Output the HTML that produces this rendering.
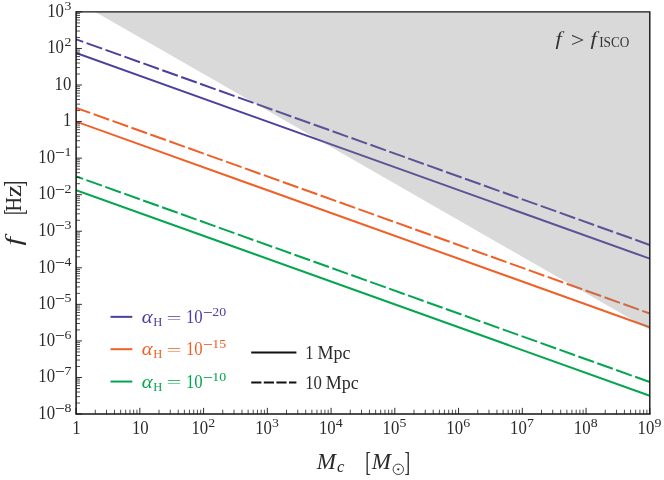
<!DOCTYPE html>
<html><head><meta charset="utf-8"><title>plot</title>
<style>html,body{margin:0;padding:0;background:#fff;}body{width:664px;height:480px;overflow:hidden;}svg{display:block;will-change:transform;}text{font-family:"Liberation Serif",serif;}</style>
</head><body>
<svg width="664" height="480" viewBox="0 0 664 480">
<rect x="0" y="0" width="664" height="480" fill="#ffffff"/>
<defs><clipPath id="cp"><rect x="76.10" y="11.90" width="573.70" height="402.15"/></clipPath></defs>
<g clip-path="url(#cp)" fill="none" stroke-width="2">
<line x1="76.10" y1="53.03" x2="649.80" y2="258.67" stroke="#4a409e"/>
<line x1="76.10" y1="39.32" x2="649.80" y2="244.96" stroke="#4a409e" stroke-dasharray="16.5 3.6" stroke-dashoffset="8.95"/>
<line x1="76.10" y1="121.58" x2="649.80" y2="327.22" stroke="#f06026"/>
<line x1="76.10" y1="107.87" x2="649.80" y2="313.51" stroke="#f06026" stroke-dasharray="16.5 3.6" stroke-dashoffset="1.52"/>
<line x1="76.10" y1="190.13" x2="649.80" y2="395.77" stroke="#03a54f"/>
<line x1="76.10" y1="176.42" x2="649.80" y2="382.06" stroke="#03a54f" stroke-dasharray="16.5 3.6" stroke-dashoffset="9.16"/>
</g>
<polygon points="95.40,11.90 649.80,11.90 649.80,329.86" fill="#808080" fill-opacity="0.3"/>
<g stroke="#141414" fill="none">
<path d="M95.29 414.05V409.70M106.51 414.05V409.70M114.48 414.05V409.70M120.66 414.05V409.70M125.70 414.05V409.70M129.97 414.05V409.70M133.67 414.05V409.70M136.93 414.05V409.70M159.03 414.05V409.70M170.26 414.05V409.70M178.22 414.05V409.70M184.40 414.05V409.70M189.45 414.05V409.70M193.71 414.05V409.70M197.41 414.05V409.70M200.67 414.05V409.70M222.78 414.05V409.70M234.00 414.05V409.70M241.97 414.05V409.70M248.14 414.05V409.70M253.19 414.05V409.70M257.46 414.05V409.70M261.16 414.05V409.70M264.42 414.05V409.70M286.52 414.05V409.70M297.75 414.05V409.70M305.71 414.05V409.70M311.89 414.05V409.70M316.94 414.05V409.70M321.20 414.05V409.70M324.90 414.05V409.70M328.16 414.05V409.70M350.27 414.05V409.70M361.49 414.05V409.70M369.46 414.05V409.70M375.63 414.05V409.70M380.68 414.05V409.70M384.95 414.05V409.70M388.64 414.05V409.70M391.91 414.05V409.70M414.01 414.05V409.70M425.24 414.05V409.70M433.20 414.05V409.70M439.38 414.05V409.70M444.43 414.05V409.70M448.69 414.05V409.70M452.39 414.05V409.70M455.65 414.05V409.70M477.76 414.05V409.70M488.98 414.05V409.70M496.94 414.05V409.70M503.12 414.05V409.70M508.17 414.05V409.70M512.44 414.05V409.70M516.13 414.05V409.70M519.39 414.05V409.70M541.50 414.05V409.70M552.72 414.05V409.70M560.69 414.05V409.70M566.87 414.05V409.70M571.91 414.05V409.70M576.18 414.05V409.70M579.88 414.05V409.70M583.14 414.05V409.70M605.24 414.05V409.70M616.47 414.05V409.70M624.43 414.05V409.70M630.61 414.05V409.70M635.66 414.05V409.70M639.93 414.05V409.70M643.62 414.05V409.70M646.88 414.05V409.70M76.10 403.04H80.00M76.10 396.61H80.00M76.10 392.04H80.00M76.10 388.50H80.00M76.10 385.60H80.00M76.10 383.15H80.00M76.10 381.03H80.00M76.10 379.16H80.00M76.10 366.49H80.00M76.10 360.05H80.00M76.10 355.48H80.00M76.10 351.94H80.00M76.10 349.04H80.00M76.10 346.59H80.00M76.10 344.47H80.00M76.10 342.60H80.00M76.10 329.93H80.00M76.10 323.49H80.00M76.10 318.92H80.00M76.10 315.38H80.00M76.10 312.48H80.00M76.10 310.04H80.00M76.10 307.92H80.00M76.10 306.05H80.00M76.10 293.37H80.00M76.10 286.93H80.00M76.10 282.36H80.00M76.10 278.82H80.00M76.10 275.92H80.00M76.10 273.48H80.00M76.10 271.36H80.00M76.10 269.49H80.00M76.10 256.81H80.00M76.10 250.37H80.00M76.10 245.80H80.00M76.10 242.26H80.00M76.10 239.37H80.00M76.10 236.92H80.00M76.10 234.80H80.00M76.10 232.93H80.00M76.10 220.25H80.00M76.10 213.81H80.00M76.10 209.24H80.00M76.10 205.70H80.00M76.10 202.81H80.00M76.10 200.36H80.00M76.10 198.24H80.00M76.10 196.37H80.00M76.10 183.69H80.00M76.10 177.25H80.00M76.10 172.68H80.00M76.10 169.14H80.00M76.10 166.25H80.00M76.10 163.80H80.00M76.10 161.68H80.00M76.10 159.81H80.00M76.10 147.13H80.00M76.10 140.69H80.00M76.10 136.13H80.00M76.10 132.58H80.00M76.10 129.69H80.00M76.10 127.24H80.00M76.10 125.12H80.00M76.10 123.25H80.00M76.10 110.57H80.00M76.10 104.13H80.00M76.10 99.57H80.00M76.10 96.02H80.00M76.10 93.13H80.00M76.10 90.68H80.00M76.10 88.56H80.00M76.10 86.69H80.00M76.10 74.01H80.00M76.10 67.58H80.00M76.10 63.01H80.00M76.10 59.46H80.00M76.10 56.57H80.00M76.10 54.12H80.00M76.10 52.00H80.00M76.10 50.13H80.00M76.10 37.45H80.00M76.10 31.02H80.00M76.10 26.45H80.00M76.10 22.91H80.00M76.10 20.01H80.00M76.10 17.56H80.00M76.10 15.44H80.00M76.10 13.57H80.00" stroke-width="0.75"/>
<path d="M76.10 414.05V407.85M139.84 414.05V407.85M203.59 414.05V407.85M267.33 414.05V407.85M331.08 414.05V407.85M394.82 414.05V407.85M458.57 414.05V407.85M522.31 414.05V407.85M586.06 414.05V407.85M649.80 414.05V407.85M76.10 414.05H81.90M76.10 377.49H81.90M76.10 340.93H81.90M76.10 304.37H81.90M76.10 267.81H81.90M76.10 231.25H81.90M76.10 194.70H81.90M76.10 158.14H81.90M76.10 121.58H81.90M76.10 85.02H81.90M76.10 48.46H81.90M76.10 11.90H81.90" stroke-width="0.9"/>
<path d="M76.10 11.90H649.80V414.05" stroke-width="1.4"/>
<path d="M76.10 11.90V414.05H649.80" stroke-width="1.5" stroke-linecap="square"/>
</g>
<g fill="#2a2a2a">
<text transform="translate(76.50,434.00) scale(0.930,1.000)" font-size="18.00" text-anchor="middle">1</text>
<text transform="translate(140.34,434.00) scale(0.930,1.000)" font-size="18.00" text-anchor="middle">10</text>
<text transform="translate(191.39,434.00) scale(0.930,1.000)" font-size="18.00">10</text>
<text transform="translate(208.29,427.15) scale(1.060,1.000)" font-size="13.10">2</text>
<text transform="translate(255.13,434.00) scale(0.930,1.000)" font-size="18.00">10</text>
<text transform="translate(272.03,427.15) scale(1.060,1.000)" font-size="13.10">3</text>
<text transform="translate(318.88,434.00) scale(0.930,1.000)" font-size="18.00">10</text>
<text transform="translate(335.78,427.15) scale(1.060,1.000)" font-size="13.10">4</text>
<text transform="translate(382.62,434.00) scale(0.930,1.000)" font-size="18.00">10</text>
<text transform="translate(399.52,427.15) scale(1.060,1.000)" font-size="13.10">5</text>
<text transform="translate(446.37,434.00) scale(0.930,1.000)" font-size="18.00">10</text>
<text transform="translate(463.27,427.15) scale(1.060,1.000)" font-size="13.10">6</text>
<text transform="translate(510.11,434.00) scale(0.930,1.000)" font-size="18.00">10</text>
<text transform="translate(527.01,427.15) scale(1.060,1.000)" font-size="13.10">7</text>
<text transform="translate(573.86,434.00) scale(0.930,1.000)" font-size="18.00">10</text>
<text transform="translate(590.76,427.15) scale(1.060,1.000)" font-size="13.10">8</text>
<text transform="translate(637.60,434.00) scale(0.930,1.000)" font-size="18.00">10</text>
<text transform="translate(654.50,427.15) scale(1.060,1.000)" font-size="13.10">9</text>
<text transform="translate(71.34,411.90) scale(1.060,1.000)" font-size="13.10" text-anchor="end">8</text>
<text transform="translate(55.03,414.00)" font-size="17.40">−</text>
<text transform="translate(55.00,418.75) scale(0.930,1.000)" font-size="18.00" text-anchor="end">10</text>
<text transform="translate(71.34,375.34) scale(1.060,1.000)" font-size="13.10" text-anchor="end">7</text>
<text transform="translate(55.03,377.44)" font-size="17.40">−</text>
<text transform="translate(55.00,382.19) scale(0.930,1.000)" font-size="18.00" text-anchor="end">10</text>
<text transform="translate(71.34,338.78) scale(1.060,1.000)" font-size="13.10" text-anchor="end">6</text>
<text transform="translate(55.03,340.88)" font-size="17.40">−</text>
<text transform="translate(55.00,345.63) scale(0.930,1.000)" font-size="18.00" text-anchor="end">10</text>
<text transform="translate(71.34,302.22) scale(1.060,1.000)" font-size="13.10" text-anchor="end">5</text>
<text transform="translate(55.03,304.32)" font-size="17.40">−</text>
<text transform="translate(55.00,309.07) scale(0.930,1.000)" font-size="18.00" text-anchor="end">10</text>
<text transform="translate(71.34,265.66) scale(1.060,1.000)" font-size="13.10" text-anchor="end">4</text>
<text transform="translate(55.03,267.76)" font-size="17.40">−</text>
<text transform="translate(55.00,272.51) scale(0.930,1.000)" font-size="18.00" text-anchor="end">10</text>
<text transform="translate(71.34,229.10) scale(1.060,1.000)" font-size="13.10" text-anchor="end">3</text>
<text transform="translate(55.03,231.20)" font-size="17.40">−</text>
<text transform="translate(55.00,235.95) scale(0.930,1.000)" font-size="18.00" text-anchor="end">10</text>
<text transform="translate(71.34,192.55) scale(1.060,1.000)" font-size="13.10" text-anchor="end">2</text>
<text transform="translate(55.03,194.65)" font-size="17.40">−</text>
<text transform="translate(55.00,199.40) scale(0.930,1.000)" font-size="18.00" text-anchor="end">10</text>
<text transform="translate(71.34,155.99) scale(1.060,1.000)" font-size="13.10" text-anchor="end">1</text>
<text transform="translate(55.03,158.09)" font-size="17.40">−</text>
<text transform="translate(55.00,162.84) scale(0.930,1.000)" font-size="18.00" text-anchor="end">10</text>
<text transform="translate(71.30,126.28) scale(0.930,1.000)" font-size="18.00" text-anchor="end">1</text>
<text transform="translate(71.30,89.72) scale(0.930,1.000)" font-size="18.00" text-anchor="end">10</text>
<text transform="translate(71.34,46.31) scale(1.060,1.000)" font-size="13.10" text-anchor="end">2</text>
<text transform="translate(63.90,53.16) scale(0.930,1.000)" font-size="18.00" text-anchor="end">10</text>
<text transform="translate(71.34,9.75) scale(1.060,1.000)" font-size="13.10" text-anchor="end">3</text>
<text transform="translate(63.90,16.60) scale(0.930,1.000)" font-size="18.00" text-anchor="end">10</text>
<text transform="translate(316.80,469.20) scale(0.980,1.000)" font-size="23.50" font-style="italic">M</text>
<text transform="translate(337.00,472.30) scale(0.950,1.000)" font-size="17.50" font-style="italic">c</text>
<text transform="translate(365.30,470.90) scale(0.720,1.190)" font-size="23.50">[</text>
<text transform="translate(371.80,469.20) scale(0.980,1.000)" font-size="23.50" font-style="italic">M</text>
<circle cx="398.3" cy="469.3" r="5.2" fill="none" stroke="#2a2a2a" stroke-width="0.9"/><circle cx="398.3" cy="469.3" r="1.15" fill="#2a2a2a"/>
<text transform="translate(404.50,470.90) scale(0.720,1.190)" font-size="23.50">]</text>
<text transform="translate(21.10,245.60) rotate(-90) scale(1.300,1.000)" font-size="23.50" font-style="italic">f</text>
<text transform="translate(22.80,215.10) rotate(-90) scale(0.720,1.190)" font-size="23.50">[</text>
<text transform="translate(21.10,211.40) rotate(-90) scale(0.880,1.000)" font-size="22.75">H</text>
<text transform="translate(21.10,197.30) rotate(-90) scale(1.220,1.000)" font-size="22.75">z</text>
<text transform="translate(22.80,186.60) rotate(-90) scale(0.720,1.190)" font-size="23.50">]</text>
</g>
<text transform="translate(555.60,45.00) scale(1.200,1.000)" font-size="18.80" font-style="italic" fill="#333333">f</text>
<text transform="translate(570.80,46.90) scale(1.180,1.000)" font-size="20.50" fill="#333333">&gt;</text>
<text transform="translate(590.40,45.00) scale(1.200,1.000)" font-size="18.80" font-style="italic" fill="#333333">f</text>
<text transform="translate(599.20,47.30) scale(0.935,1.000)" font-size="14.20" fill="#333333">ISCO</text>
<line x1="110.5" y1="316.85" x2="132.3" y2="316.85" stroke="#4a409e" stroke-width="2"/>
<text transform="translate(141.80,322.80) scale(1.060,1.000)" font-size="19.50" font-style="italic" fill="#4a409e">α</text>
<text transform="translate(153.30,326.00) scale(0.980,1.000)" font-size="12.80" fill="#4a409e">H</text>
<text transform="translate(166.50,322.70) scale(1.850,1.000)" font-size="14.40" fill="#4a409e">=</text>
<text transform="translate(185.90,322.80) scale(0.930,1.000)" font-size="18.00" fill="#4a409e">10</text>
<text transform="translate(203.00,318.05)" font-size="17.40" fill="#4a409e">−</text>
<text transform="translate(212.20,315.95) scale(1.060,1.000)" font-size="13.10" fill="#4a409e">20</text>
<line x1="110.5" y1="349.20" x2="132.3" y2="349.20" stroke="#f06026" stroke-width="2"/>
<text transform="translate(141.80,355.15) scale(1.060,1.000)" font-size="19.50" font-style="italic" fill="#f06026">α</text>
<text transform="translate(153.30,358.35) scale(0.980,1.000)" font-size="12.80" fill="#f06026">H</text>
<text transform="translate(166.50,355.05) scale(1.850,1.000)" font-size="14.40" fill="#f06026">=</text>
<text transform="translate(185.90,355.15) scale(0.930,1.000)" font-size="18.00" fill="#f06026">10</text>
<text transform="translate(203.00,350.40)" font-size="17.40" fill="#f06026">−</text>
<text transform="translate(212.20,348.30) scale(1.060,1.000)" font-size="13.10" fill="#f06026">15</text>
<line x1="110.5" y1="381.55" x2="132.3" y2="381.55" stroke="#03a54f" stroke-width="2"/>
<text transform="translate(141.80,387.50) scale(1.060,1.000)" font-size="19.50" font-style="italic" fill="#03a54f">α</text>
<text transform="translate(153.30,390.70) scale(0.980,1.000)" font-size="12.80" fill="#03a54f">H</text>
<text transform="translate(166.50,387.40) scale(1.850,1.000)" font-size="14.40" fill="#03a54f">=</text>
<text transform="translate(185.90,387.50) scale(0.930,1.000)" font-size="18.00" fill="#03a54f">10</text>
<text transform="translate(203.00,382.75)" font-size="17.40" fill="#03a54f">−</text>
<text transform="translate(212.20,380.65) scale(1.060,1.000)" font-size="13.10" fill="#03a54f">10</text>
<line x1="251.2" y1="352.6" x2="296.4" y2="352.6" stroke="#111" stroke-width="2"/>
<line x1="251.2" y1="382.4" x2="296.4" y2="382.4" stroke="#111" stroke-width="2" stroke-dasharray="10.2 2.4"/>
<text transform="translate(305.20,358.90) scale(0.930,1.000)" font-size="18.00" fill="#2a2a2a">1</text>
<text transform="translate(317.50,358.90)" font-size="18.00" fill="#2a2a2a">Mpc</text>
<text transform="translate(305.20,388.80) scale(0.930,1.000)" font-size="18.00" fill="#2a2a2a">10</text>
<text transform="translate(325.70,388.80)" font-size="18.00" fill="#2a2a2a">Mpc</text>
</svg></body></html>
